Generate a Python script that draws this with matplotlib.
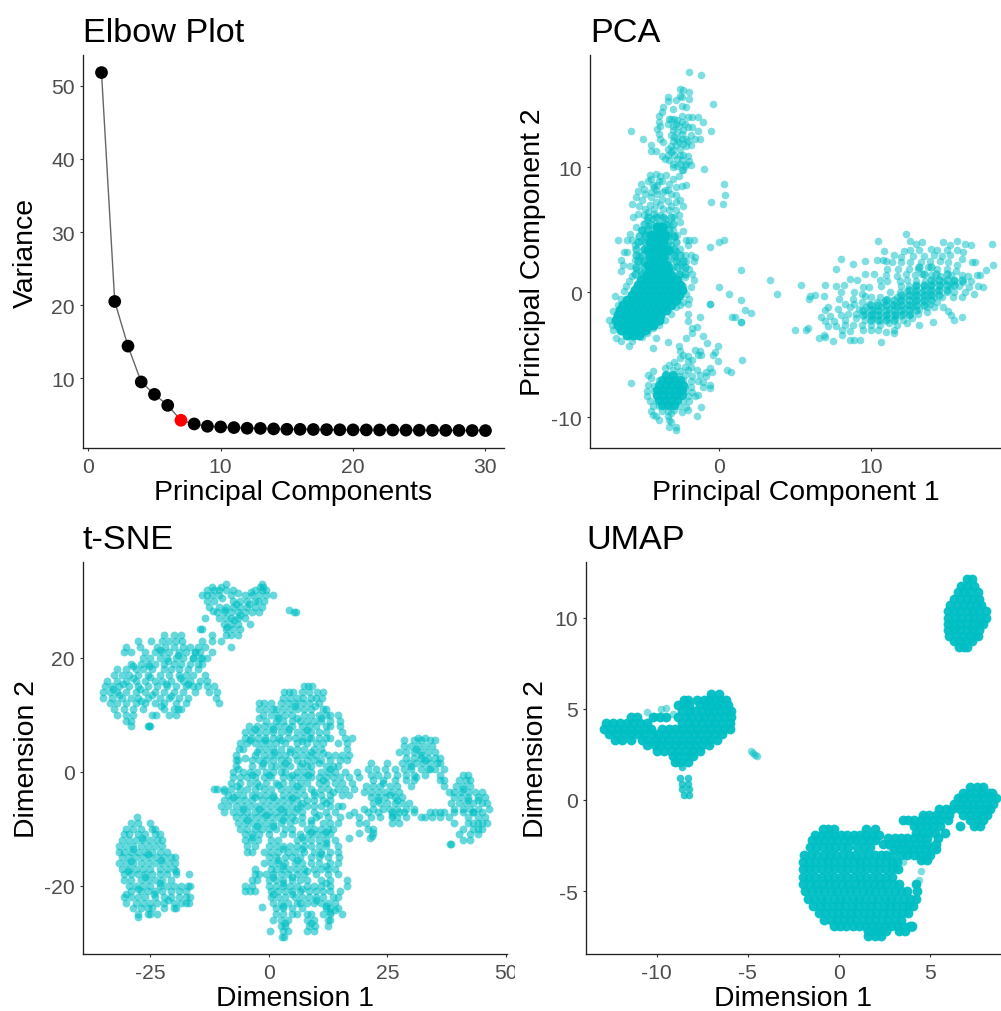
import matplotlib
matplotlib.use("Agg")
import matplotlib.pyplot as plt
from matplotlib.transforms import Bbox

plt.rcParams['font.family'] = ['Liberation Sans', 'DejaVu Sans']
plt.rcParams['axes.unicode_minus'] = False

W, H = 1001, 1012
TEAL = '#00BFC4'

# ---------- Elbow ----------
elbow_pc = list(range(1, 31))
elbow_var = [51.8, 20.5, 14.4, 9.5, 7.8, 6.3, 4.26, 3.76, 3.44, 3.35, 3.26, 3.17, 3.15, 3.08, 3.03,
             3.02, 3.0, 2.98, 2.96, 2.95, 2.94, 2.93, 2.92, 2.91, 2.9, 2.89, 2.88, 2.87, 2.86, 2.85]
elbow_highlight = 7

# ---------- PCA ----------
pca_core_rows = [
 (-3.4,[-6.1,-5.7,-5.3]),(-3.0,[-6.5,-6.1,-5.7,-5.3,-4.9]),
 (-2.6,[-6.7,-6.3,-5.9,-5.5,-5.1,-4.7,-4.4]),(-2.2,[-6.8,-6.4,-6.0,-5.6,-5.2,-4.8,-4.4,-4.0]),
 (-1.8,[-6.7,-6.3,-5.9,-5.5,-5.1,-4.7,-4.3,-3.9]),(-1.4,[-6.6,-6.2,-5.8,-5.4,-5.0,-4.6,-4.2,-3.8,-3.5]),
 (-1.0,[-6.4,-6.0,-5.6,-5.2,-4.8,-4.4,-4.0,-3.6,-3.2]),(-0.6,[-6.1,-5.7,-5.3,-4.9,-4.5,-4.1,-3.7,-3.3,-2.9]),
 (-0.2,[-5.8,-5.4,-5.0,-4.6,-4.2,-3.8,-3.4,-3.0,-2.7]),(0.2,[-5.6,-5.2,-4.8,-4.4,-4.0,-3.6,-3.2,-2.8,-2.5]),
 (0.6,[-5.4,-5.0,-4.6,-4.2,-3.8,-3.4,-3.0,-2.6]),(1.0,[-5.2,-4.8,-4.4,-4.0,-3.6,-3.2,-2.8]),
 (1.4,[-4.8,-4.4,-4.0,-3.6,-3.2]),(1.8,[-4.6,-4.2,-3.8,-3.4]),(2.2,[-4.7,-4.3,-3.9,-3.5]),
 (2.8,[-4.6,-4.2,-3.7]),(3.4,[-4.7,-4.3,-3.8,-3.4]),(4.0,[-4.6,-4.1,-3.7]),(4.6,[-4.5,-4.0,-3.6]),
 (5.2,[-4.1,-3.8]),
]
pca_bottom_core_rows = [
 (-6.6,[-3.5,-3.1]),(-7.0,[-3.8,-3.4,-3.0,-2.6]),(-7.4,[-4.0,-3.6,-3.2,-2.8,-2.4]),(-7.8,[-4.1,-3.7,-3.3,-2.9,-2.5]),
 (-8.2,[-4.1,-3.7,-3.3,-2.9,-2.5]),(-8.6,[-4.0,-3.6,-3.2,-2.8]),(-9.0,[-3.8,-3.4,-3.0]),
]
pca_mid_rows = [
 (6,[-4.7,-4.2,-3.7,-3.2]),(5.5,[-5.0,-4.5,-4.0,-3.5,-3.1]),(5,[-5.1,-4.7,-4.2,-3.7,-3.3]),
 (4.5,[-5.3,-4.9,-4.4,-3.9,-3.4,-3.0]),(4,[-5.4,-4.9,-4.4,-3.9,-3.4,-2.9]),(3.5,[-5.5,-5,-4.5,-4,-3.5,-3]),
 (3,[-5.5,-5.1,-4.5,-4,-3.5,-3,-2.6]),(2.5,[-5.4,-5,-4.4,-3.9,-3.4,-2.9,-2.4]),(2,[-5.5,-5,-4.4,-3.8,-3.3,-2.8,-2.3]),
 (1.5,[-5.6,-5.1,-4.6,-2.7,-2.3]),
]
pca_band_rows = [
 (2,[13.2,14.0]),(1.5,[13.5,14.3,15.0]),(1.0,[14.0,14.5,15,15.5,16]),(.6,[13,13.5,14,14.5,15,15.5]),
 (.2,[12.5,13,13.5,14,14.5,15]),(-.2,[12,12.5,13,13.5,14,14.5]),(-.6,[11,11.5,12,12.5,13,13.5,14]),
 (-1,[10,10.5,11,11.5,12,12.5,13,13.5]),(-1.4,[9.5,10,10.5,11,11.5,12,12.5,13]),(-1.8,[9.5,10,10.5,11,11.5,12,12.5]),
 (-2.2,[10,10.5,11,11.5]),
]
pca_main_edge = [
 (-7.3,-2.2),(-7.1,-2.6),(-7,-3),(-6.8,-3.7),(-6.5,-3.9),(-6,-4.3),(-5.8,-3.9),(-7,-1.5),(-6.9,-0.3),(-6.7,-1),
 (-6.5,-0.5),(-6.3,0.1),(-6.2,0.5),(-6,0.9),(-5.8,1.3),(-6.5,1.7),(-6.4,2.2),(-6.5,2.6),(-6.3,3.2),(-6.1,3.2),
 (-6.7,4.2),(-6.1,4.2),(-5.8,4.2),(-5.6,3.8),(-5.6,2.6),(-5.3,2.9),(-5.9,4.7),(-5.5,5.2),(-5.2,5),(-5.7,6),
 (-5.4,6.3),(-5,6.2),(-4.8,5.8),(-5.9,2.1),(-5.5,1.9),(-5.2,1.6),(-5.1,2.4),(-5.0,3.5),(-5.2,4.1),(-4.9,4.7),
 (-4.7,5.3),(-4.4,5.9),(-4.3,6.3),(-3.9,6.2),(-3.6,5.9),(-3.3,5.5),(-3.1,5),(-3,4.4),(-3.2,3.8),(-2.9,3.3),
 (-3,2.8),(-2.7,2.4),(-3.1,2),(-2.6,1.5),(-2.3,1.2),(-2.4,0.5),(-2.2,4.2),(-2.1,3.8),(-2,4.2),(-1.7,4.2),
 (-2.3,3),(-1.9,3),(-1.6,2.8),(-1.7,2.5),(-2.2,2.5),(-2.5,2),(-2,1.9),(-1.8,1.5),(-1.7,1),(-1.9,0.4),
 (-2.2,-0.1),(-2,-0.5),(-2.4,-0.8),(-2.1,-0.9),(-2.6,-1),(-2.9,-1.2),(-3.2,-1.7),(-3.6,-2.2),(-4,-2.6),(-4.4,-2.9),
 (-4.8,-3.3),(-5.1,-3.6),(-5.3,-3.2),(-4.7,-3),(-2.6,3.5),(-2.4,4.9),(-2.8,4.6),(-2.6,5.6),(-3.0,6.0),(-3.3,6.6),
 (-2.4,6.9),(-2.7,6.2),(-5.8,7.1),(-5.1,7.4),(-4.6,7),(-4.2,7.2),(-3.8,7.5),(-3.4,7.3),(-2.9,7.2),(-2.6,7.4),
 (-5.4,8.1),(-5.0,8.3),(-5.5,7.6),(-4.5,8.0),(-4.3,8.4),(-4.1,7.9),(-3.7,8.0),(-3.2,7.9),(-5.2,8.7),(-4.7,8.9),
 (-4.4,8.6),(-4.1,8.6),(-3.8,8.9),(-3.3,8.7),(-2.9,8.4),(-2.5,8.5),(-2.2,8.6),(-4.6,9.4),(-4.2,9.5),(-3.9,9.3),
 (-3.5,9.4),(-3.1,9.1),(-2.7,9.3),(-2.4,9.8),(-4.5,9.1),(-3.6,8.2),(-4.2,8.2),(-3.9,7.0),(-2.9,7.8),(-4.9,6.7),
 (-4.7,6.4),(-4.9,7.9),(-3.2,6.9),(-3.7,6.7),(-4.3,6.7),(-5.3,6.9),(-2.9,6.6),(-3.4,8.2),(-4.0,8.9),(-4.5,7.6),
]
pca_top = [
 (-2.6,16.3),(-2.4,16.2),(-2.0,16.0),(-2.6,15.7),(-2.0,15.5),(-2.5,15.6),(-3.4,15.6),(-3.4,15.3),(-2.5,14.9),(-2.2,14.8),
 (-3.7,14.8),(-3.8,14.4),(-4.0,14.1),(-2.5,14.1),(-3.2,13.9),(-3.0,13.9),(-2.8,13.8),(-2.5,13.6),(-2.1,14.0),(-1.4,14.0),
 (-1.8,14.0),(-4.0,13.6),(-3.4,13.5),(-3.1,13.3),(-2.7,13.3),(-2.3,13.5),(-1.1,13.6),(-4.1,13.1),(-3.9,13.3),(-3.1,13.0),
 (-2.4,13.0),(-2.1,13.2),(-1.4,12.9),(-4.0,12.7),(-3.2,12.6),(-2.8,12.8),(-2.5,12.7),(-1.9,12.6),(-3.9,12.3),(-3.1,12.1),
 (-2.8,12.3),(-2.5,12.3),(-2.2,12.3),(-1.6,12.3),(-1.3,12.3),(-3.2,11.7),(-2.9,11.8),(-2.4,11.9),(-1.9,11.8),(-4.5,11.8),
 (-3.4,11.5),(-3.1,11.4),(-2.6,11.5),(-2.2,11.7),(-4.5,11.3),(-4.2,11.3),(-3.4,11.0),(-3.0,11.0),(-2.4,11.0),(-2.1,10.9),
 (-3.8,10.9),(-3.3,10.6),(-2.8,10.7),(-2.5,10.6),(-2.0,10.5),(-3.1,10.3),(-2.6,10.3),(-2.2,10.3),(-1.9,10.2),(-3.1,10.0),
 (-2.8,10.1),(-2.3,10.1),(-2.5,9.8),(-3.7,12.0),(-1.8,13.2),(-2.1,12.1),(-3.6,10.7),(-3.0,12.4),(-2.7,12.0),(-3.3,13.9),
 (-2.9,13.5),(-2.6,11.0),(-3.2,11.2),(-2.9,15.4),(-3.1,14.7),
]
pca_bottom = [
 (-2.6,-4.7),(-2.4,-5.0),(-2.1,-5.1),(-1.6,-4.6),(-1.3,-4.7),(-1.4,-5.0),(-1.2,-5.0),(-2.6,-5.3),(-2.1,-5.5),(-1.8,-5.4),
 (-3.0,-5.6),(-3.3,-5.8),(-2.8,-5.9),(-2.3,-6.0),(-1.9,-6.0),(-3.6,-6.1),(-3.1,-6.2),(-2.6,-6.3),(-2.1,-6.2),(-1.5,-6.2),
 (-0.6,-6.1),(-0.5,-6.4),(-0.9,-6.4),(-4.4,-6.3),(-4.7,-6.6),(-4.5,-6.9),(-3.6,-6.6),(-3.1,-6.7),(-2.7,-6.7),(-2.3,-6.6),
 (-1.8,-6.7),(-1.3,-6.6),(-0.9,-6.7),(-4.0,-7.0),(-3.6,-7.1),(-3.2,-7.1),(-2.8,-7.2),(-2.4,-7.0),(-1.9,-7.1),(-1.4,-7.1),
 (-1.1,-7.2),(-0.6,-7.4),(-4.7,-7.4),(-4.3,-7.5),(-3.9,-7.5),(-3.5,-7.5),(-3.1,-7.5),(-2.7,-7.6),(-2.3,-7.5),(-1.9,-7.6),
 (-1.1,-7.6),(-4.8,-7.9),(-4.3,-7.9),(-3.9,-7.9),(-3.5,-7.9),(-3.1,-7.9),(-2.7,-8.0),(-2.3,-7.9),(-1.8,-8.0),(-0.6,-7.7),
 (-4.8,-8.3),(-4.2,-8.3),(-3.8,-8.3),(-3.4,-8.3),(-3.0,-8.3),(-2.6,-8.3),(-2.1,-8.3),(-1.6,-8.3),(-1.4,-8.2),(-4.6,-8.7),
 (-4.1,-8.7),(-3.7,-8.7),(-3.3,-8.7),(-2.9,-8.8),(-2.4,-8.7),(-2.0,-8.7),(-4.4,-9.1),(-4.0,-9.1),(-3.6,-9.1),(-3.2,-9.1),
 (-2.7,-9.1),(-2.2,-9.2),(-1.2,-9.2),(-4.5,-9.5),(-3.8,-9.5),(-3.4,-9.5),(-3.0,-9.4),(-2.5,-9.6),(-2.1,-9.4),(-4.4,-9.8),
 (-4.2,-9.9),(-3.4,-9.9),(-3.2,-9.7),(-1.5,-9.9),(-4.0,-10.2),(-3.3,-10.2),(-3.2,-10.4),(-3.3,-10.8),(-2.9,-10.8),(-2.9,-11.0),
]
pca_right = [
 (12.3,4.7),(10.5,4.1),(12.6,4.1),(13.0,3.9),(13.4,4.0),(14.8,4.0),(15.2,3.8),(15.7,4.1),(16.2,3.9),(16.6,3.8),(18.0,3.9),
 (10.9,3.3),(12.2,3.3),(12.6,3.4),(13.2,3.4),(14.0,3.5),(14.4,3.4),(15.0,3.4),(15.7,3.4),(16.1,3.2),(11.5,3.0),(12.0,2.8),
 (12.8,2.9),(13.5,2.9),(14.2,3.0),(14.7,2.9),(15.2,3.0),(16.0,2.7),(8.0,2.7),(9.6,2.5),(10.4,2.6),(10.8,2.6),(11.0,2.5),
 (11.4,2.4),(12.0,2.4),(12.6,2.4),(13.3,2.4),(13.9,2.5),(14.6,2.5),(15.1,2.4),(15.7,2.2),(16.7,2.4),(16.9,2.4),(18.1,2.2),
 (7.7,1.9),(8.8,2.3),(11.1,1.9),(11.8,1.9),(12.5,1.9),(13.1,1.9),(13.8,2.0),(14.4,1.9),(15.0,1.9),(15.6,1.7),(17.6,1.8),
 (9.6,1.5),(10.2,1.5),(11.0,1.4),(11.7,1.3),(12.3,1.5),(12.9,1.4),(13.4,1.5),(14.0,1.4),(14.6,1.3),(15.3,1.4),(16.0,1.4),
 (16.4,1.3),(17.0,1.4),(17.2,1.4),(8.6,1.1),(9.1,1.0),(10.6,1.0),(11.1,0.9),(11.9,0.9),(12.4,1.0),(13.0,0.9),(13.6,0.9),
 (14.2,0.9),(14.8,0.9),(15.5,0.9),(16.1,0.8),(16.6,0.9),(7.0,0.6),(7.7,0.5),(8.2,0.6),(9.5,0.4),(9.9,0.4),(10.7,0.5),
 (12.0,0.5),(12.5,0.5),(13.0,0.5),(13.5,0.5),(14.0,0.5),(14.6,0.5),(15.2,0.5),(15.8,0.5),(16.5,0.4),(17.1,0.5),(17.4,0.4),
 (8.0,0.0),(8.9,0.0),(9.4,-0.1),(11.3,0.0),(11.9,0.0),(12.4,0.1),(12.9,0.0),(13.4,0.0),(13.9,0.0),(14.4,0.1),(15.0,0.0),
 (15.5,0.0),(16.2,0.0),(16.8,-0.1),(6.0,-0.3),(6.3,-0.2),(6.9,-0.3),(7.9,-0.5),(8.8,-0.5),(9.6,-0.3),(10.0,-0.4),(10.6,-0.4),
 (11.1,-0.5),(11.7,-0.4),(12.2,-0.4),(12.7,-0.4),(13.2,-0.4),(13.7,-0.4),(14.2,-0.4),(14.7,-0.4),(15.4,-0.4),(16.0,-0.4),
 (5.9,-0.5),(7.2,-1.2),(7.0,-1.4),(8.3,-0.9),(8.9,-0.9),(9.4,-0.8),(9.9,-0.9),(10.4,-0.8),(10.9,-0.8),(11.4,-0.9),(11.9,-0.8),
 (12.4,-0.9),(12.9,-0.8),(13.4,-0.8),(13.9,-0.9),(14.4,-0.8),(7.8,-1.3),(8.6,-1.2),(9.2,-1.3),(9.7,-1.2),(10.2,-1.3),(10.7,-1.2),
 (11.2,-1.3),(11.7,-1.2),(12.2,-1.3),(12.7,-1.2),(13.2,-1.3),(13.7,-1.2),(14.2,-1.2),(14.8,-1.2),(15.1,-1.5),(6.7,-2.0),(7.3,-1.9),
 (8.0,-1.8),(8.5,-1.7),(9.0,-1.7),(9.6,-1.7),(10.1,-1.7),(10.6,-1.7),(11.1,-1.7),(11.6,-1.7),(12.1,-1.7),(12.6,-1.7),(13.1,-1.7),
 (13.7,-1.6),(15.3,-1.8),(7.0,-2.3),(7.6,-2.3),(8.3,-2.2),(9.0,-2.1),(9.6,-2.2),(10.1,-2.1),(10.6,-2.2),(11.1,-2.1),(11.6,-2.1),
 (12.1,-2.2),(12.7,-2.1),(15.5,-2.2),(16.0,-2.0),(7.2,-2.7),(7.7,-2.7),(8.3,-2.6),(8.8,-2.6),(9.4,-2.6),(10.0,-2.6),(10.6,-2.6),
 (11.2,-2.5),(11.7,-2.6),(12.4,-2.5),(13.2,-2.6),(14.1,-2.4),(8.1,-3.0),(8.6,-3.1),(9.5,-3.0),(10.0,-3.0),(10.5,-3.0),(11.0,-3.2),
 (11.5,-3.0),(7.0,-3.6),(6.6,-3.7),(7.5,-3.9),(8.1,-3.4),(8.6,-3.8),(8.9,-3.8),(9.3,-3.8),(10.7,-4.0),(11.5,-3.3),(6.9,-3.4),
]
pca_isolated = [
 (-2.0,17.6),(-1.2,17.4),(-0.4,15.1),(-0.55,12.9),(-1.05,9.9),(0.33,8.7),(0.37,7.8),(-0.55,7.2),(0.26,7.1),(0.3,4.2),
 (0,4.0),(-0.65,3.6),(1.45,1.8),(3.37,1.0),(3.8,-0.15),(5.4,0.6),(0,0.4),(0.66,-0.15),(1.45,-0.65),(-0.65,-0.9),
 (1.67,-1.4),(2.1,-1.65),(0.8,-1.95),(1.03,-2),(1.45,-2.4),(-1.3,-2),(-2.1,-1.7),(-2.1,-2.3),(-1.8,-2.9),(-1.45,-2.8),
 (-1.8,-3.3),(-2.2,-3.7),(-2.7,-4.3),(-3.4,-4),(-4.4,-4.5),(-4.2,-3.7),(-0.85,-4.1),(-0.1,-4.3),(-0.3,-4.8),(-0.4,-5),
 (-0.1,-5.5),(1.47,-5.4),(0.5,-6.2),(0.77,-6.4),(-5.84,-7.25),(-5.84,12.9),(-5.07,12.3),(5,-3),(5.7,-3),(5.85,-2.9),
 (-0.6,-0.9),(1.4,-2.4),(-1.1,-3.5),
]

# ---------- t-SNE ----------
tsne_upper_left_rows = [
 (24,[-22,-20,-18.5]),(23,[-27.5,-24.8,-22.5,-21,-19.5,-18.2]),(22,[-30,-27.2,-23.5,-21.8,-20,-18,-16.5]),
 (21,[-30.5,-29,-26,-24,-22.5,-21,-19,-17.5,-15.5]),(20,[-26.5,-25,-23,-21.5,-19.5,-18,-16,-14.5]),
 (19,[-29,-27,-25.5,-24,-22,-20,-18.5,-16.5]),(18,[-32,-30,-28,-26.5,-24.5,-22,-20.5,-19,-17,-15]),
 (17,[-32.5,-31,-29.5,-27.5,-25.5,-23,-21,-19,-17.5,-16,-13.5]),(16,[-34,-32,-30,-28,-26,-24,-22.5,-20.5,-18,-16.5,-14.5,-13]),
 (15,[-34.5,-33,-31.5,-29.5,-27.5,-25.5,-23.5,-21.5,-19.5,-17.5,-16,-13,-11.5]),(14,[-35,-33.5,-32,-30,-28,-26,-24,-22,-20,-18,-15.5,-12.5,-11]),
 (13,[-35,-33,-31,-29,-27.5,-25.5,-23,-21,-19,-17,-11.2]),(12,[-33.5,-32,-30,-28,-26,-24,-22,-19.5,-17.5,-10.5]),
 (11,[-32.5,-30.5,-28.5,-26.5,-22,-20,-18.5]),(10,[-32,-30,-28.5,-24.5,-23.8,-21,-19.5]),(9,[-30,-29]),(8,[-29,-25.5,-25,-25.2]),
]
tsne_neck_rows = [
 (33,[-9,-1.5]),(32.5,[-12,-10,-1.8,-1.2]),(32,[-13,-11.5,-10.5,-9,-7.5,-3,-1.5,-0.5]),
 (31,[-14,-13,-12,-10.5,-8,-5,-3.5,-2,-0.5,0.8]),(30,[-13,-11.5,-7.5,-6,-4.5,-3,-1,-2.2]),
 (29,[-12.5,-10.5,-9,-7.5,-6,-4.5,-3,-1.5]),(28,[-11,-9.5,-8,-6.5,-5,-3.5,-2]),
 (27,[-13.5,-10.5,-9,-8,-6.5,-5]),(26,[-9.5,-8,-6.5,-4]),(25,[-14.5,-14,-9,-7.5,-6]),
 (24,[-12,-9,-8,-6.5]),(23,[-14,-12,-10]),(22,[-15,-13.5,-8]),(21,[-15.5,-14.5,-12]),
 (20,[-16,-14,-13]),(19,[-15,-14]),
]
tsne_extra = [(4.2,28.5),(5.3,28.1),(5.7,28.0),(-11.5,-3),(-11,-3),(-9.5,-3.4),(38.5,-12.7),(38.2,-12.7),
 (22,-10.8),(21.8,-11.3),(21.4,-11.6),(19,-9),(19.1,-10.8),(17,-11.6),(17,-7.5),(16.5,-19),(14,-24.2),(-1.5,-23.8)]
tsne_fill = [
 (-9.8,30.5),(-6.4,31.4),(-3.8,31.6),(-7,29.5),(-4.2,29.4),(-9.3,28.5),(-6,27.6),(-11.8,28.3),(-7.3,26.6),(-8.7,25.4),
 (-30.7,15.5),(-28.7,16.5),(-25,16.6),(-21.7,15.5),(-18.7,16.5),(-31.6,13.5),(-27.2,14.5),(-24.7,13.5),(-20.5,13.4),(-28.5,18.6),
 (-25.2,18.5),(-21.2,19.5),(-19.2,20.5),(-23,21.4),(-27,12.5),(-22.7,11.5),(-19.2,11),(-32.8,14.5),(-17,15.5),(-15,15),
 (-28.5,-13.5),(-25.5,-14.5),(-22.7,-15.5),(-29.6,-17.5),(-26,-18.5),(-23,-19.6),(-27.5,-20.5),(-24.2,-21.5),(-21.2,-22.5),(-29,-15.6),
 (-26.8,-11.6),(-30,-21.5),(-19.5,-17.5),
 (1.5,11),(5.5,11.5),(9.7,11.5),(-2,9.5),(2,9.5),(6,9.5),(11,9.5),(-3,7.5),(1,7.5),(4.3,7.5),(8,7.4),(13,8),
 (-4,5.5),(-0.7,5.5),(2.5,5.5),(7,5.4),(9,6),(13,6),(-2.5,3.5),(1.2,3.5),(4.5,3.5),(9,3.5),(11.5,3.3),(-5,2.4),(-1.2,1.6),(3.5,1.5),
 (7,1.5),(10.5,1.6),(13,0.5),(-6.5,0.5),(-3.5,-0.5),(0,-0.5),(5,-0.5),(8.3,-0.5),(11.5,-1.5),(-6.7,-2.5),(-2,-2.5),(2,-2.4),(6,-2.5),
 (9.5,-3.5),(13.5,-3.5),(-7.5,-4.5),(-3,-4.5),(1,-4.4),(5,-4.6),(7,-5.5),(12,-5.5),(-5.5,-6.5),(-2,-6.5),(2.5,-6.5),(6,-6.4),(10.5,-7.5),
 (-4.5,-8.5),(-0.5,-7.5),(3,-8.5),(5.5,-8.5),(9,-8.5),(-2.5,-9.6),(1,-9.5),(9,-10.5),(12,-10.5),(-3.5,-11.5),(7,-11.5),(12,-12.5),
 (3,-13.5),(7,-13.5),(11,-14.5),(2,-15.5),(6,-15.5),(12,-16.5),(3,-16.5),(8,-17.5),(1,-18.5),(5,-18.5),(12,-19.5),(3,-19.6),(7,-20.5),
 (1,-21.5),(5,-21.5),(10,-22.5),(3,-23.5),(6.5,-23),(12,-23.5),(3.5,-26.5),(9,-26.5),(13,-24.6),
 (30,1),(32,3),(31,4),(33,2),(34,0.5),(31,-1),(25.5,-4),(24,-2),(27,-5),(23,-5),(26,-7.5),(42,-5),(43,-7),(44,-5),(41,-3),(42,-9),(44,-9),
]
tsne_lower_left_rows = [
 (-8,[-27.8]),(-9,[-29,-27.5,-25]),(-10,[-30,-28.5,-27,-24.5,-24]),(-11,[-30.5,-29.5,-27.5,-26,-24,-23]),
 (-12,[-31,-29.5,-28,-26.5,-25,-23.5,-22.5]),(-13,[-31.5,-30,-28.5,-27,-25.5,-24,-22.5]),
 (-14,[-31.5,-30.5,-29,-27.5,-26,-24.5,-23,-21.5]),(-15,[-31,-29.5,-28,-26.5,-25,-23.5,-22,-20.5,-19.8]),
 (-16,[-31.5,-30,-28.5,-27,-25.5,-24,-22.5,-21,-19.8]),(-17,[-31,-29.5,-28,-26.5,-25,-23,-21.5,-20]),
 (-18,[-30.5,-29,-27.5,-26,-24.5,-23,-21.5,-19.5,-16.8]),(-19,[-30.5,-29,-27,-25.5,-24,-22.5,-20.5]),
 (-20,[-29.5,-28,-26.5,-25,-23,-21.5,-20,-18.5,-17,-16.5]),(-21,[-29,-27,-25.5,-24,-22.5,-20.5,-19,-17.5]),
 (-22,[-30.5,-29,-27.5,-26,-24,-22,-20.5,-19,-17.5,-16.5]),(-23,[-30,-28,-26.5,-25,-23.5,-22,-20,-18.5,-17.5,-16.8]),
 (-24,[-28.5,-27,-25.5,-24.5,-22,-20,-19.5]),(-25,[-27.5,-25.5,-25,-23.5]),(-25.5,[-27.5]),
]
tsne_center_rows = [
 (15,[7.5,8.2,9.2]),(14,[3.2,4.2,5.2,7,8.5,10.2,11.5]),(13,[3,4.5,6,7.2,8.8,10,11.3]),
 (12,[-2,-1,0.5,2.5,4,5.5,7,8.5,10.5]),(11,[-2,-0.5,1,3,4.5,6,7.5,9,11.5,12]),
 (10,[-1.2,0.5,2,3.5,5,7.5,9,10.5,12,13,14.5]),(9,[-0.5,1.5,3,5,6.5,8,9.5,11,13,15]),
 (8,[-4.2,-2.5,-1,0.5,2,3.5,5,7,8.5,10,12,15]),(7,[-5,-3.5,-2,-0.5,1,2.5,4,6,7.5,9,10.5,12,15.5]),
 (6,[-5,-3.8,-2.2,-0.8,0.8,2.2,4,5.5,7,8.5,10.5,12,16,17.5]),(5,[-6,-4.5,-3,-1.5,0,1.5,3.5,6,8,10,11.5,14.5,16.5]),
 (4,[-6.2,-5.5,-2,-0.5,1,2.5,4.5,6,7.5,9.5,11,16.5]),(3,[-7,-3,-1,0.5,2,3.5,5.5,7,8.5,10,12.5,14,15.5,17]),
 (2,[-7,-6.5,-3.5,-2,-0.5,1,2.5,4,6,8,9.5,11,13,15,16.5]),(1,[-7,-3.5,-1.5,0.5,1.5,3,4.5,6.5,8,9,12,13.5,14.5]),
 (0,[-7.5,-5.5,-4,-2.5,-0.5,1,2.5,3.5,6,7.5,9,11,12.5,14,16,18.5]),(-1,[-7.5,-6,-4.5,-3,-1,0.5,3,4.5,6,7.5,9,10.5,12,13.5,15,17,19]),
 (-2,[-8,-6,-4,-2.5,-0.5,1.5,3,5,6.5,8,10.5,12,14,15.5,17.5]),(-3,[-9.5,-8,-6,-4.5,-3,-1,0.5,2.5,4,5.5,7,9,11,12.5,14.5,16,18]),
 (-4,[-8.5,-7,-5.5,-3.5,-2,-0.5,1,3,4.5,6,7.5,9.5,11,13,15.5,17]),(-5,[-9.5,-8,-6.5,-5,-3.5,-1.5,0,1.5,3,4.5,6,8,9.5,11.5,13]),
 (-6,[-10,-8.5,-7,-5.5,-4,-2.5,-1,0.5,2,3.5,4.8,6.5,8,9.5,11,13,14.5,15.5]),(-7,[-9.5,-7.5,-6,-4.5,-3,-1.5,0,1.5,3,4,5.5,7,9.5,12,14]),
 (-8,[-7,-5.5,-4,-2.5,-1,0.5,2,3.5,5,7,10,12.5,15]),(-9,[-6.5,-5,-3.5,-2,-0.5,1,2.5,4.5,7,9,11.5,13,14.5]),
 (-10,[-6,-4.5,-3,-1.5,0,1.5,3.5,5,8,9.5,11,12.5,13.5]),(-11,[-5,-3.5,-2,0,3,5,6.5,8.5,10,11.5,13]),
 (-12,[-5,-3.8,-2.2,0.5,2,6,7.5,9,10.5,12,14]),(-13,[-4.5,-3,0,1.5,3,4.5,6,7.5,9,10.5,12,14.5]),
 (-14,[-4.5,-3.5,-1,0.5,2,4,5.5,7.5,9.5,11,13,14.5]),(-15,[0,1.5,3.5,5,6.5,9,10.5,12.5,14.8]),
 (-16,[-1,0.5,2,3.5,5.5,7,9,10.5,13,14.5]),(-17,[-3,0.5,1.5,3,4.5,6,7.5,9.5,11,12.5,14]),
 (-18,[-3,-2,-0.5,1,2.5,4,6,7.5,10,12.5,14.5]),(-19,[-3.5,-2.5,0,1.5,3,5,6.5,8,11,13]),
 (-20,[-5,-3.5,0,1.5,3,4.5,6,8,9.5,11,13,16.5]),(-21,[-5,-4,-3,0.5,2,3.5,5,6.5,8.5,10,11.5,13,15]),
 (-22,[0.5,2,3.5,5.5,7,8.5,10,11.5,13.5,14.5]),(-23,[1,2.5,4,6,8,9.5,11,12.5,14]),
 (-24,[1.5,3,5,7,12,13,14.5]),(-25,[1.5,3,5,6,8,9,11.5,13,15.5]),(-26,[1,2.5,4,8,9.5,12.5,13]),
 (-27,[2.5,3.5,8.5,9.8,12.5]),(-28,[0.3,3,4,8,9.5]),(-29,[2.8,3.2]),
]
tsne_right_rows = [
 (6,[31.5,33]),(5.5,[28.5,30.5,32,34,35]),(4.5,[28.5,30,31.5,33,34.5]),(3.5,[27.5,29,30.5,32,33.5,35]),
 (2.5,[29,30.5,32,33.5,35,36]),(1.5,[21.5,25,28,29.5,31,32.5,34,35.5,36]),(0.5,[21,22.5,24.5,26.5,28.5,30,32,33.5,35,37]),
 (-0.5,[21.5,23,25,27,29,30.5,33,36,41,42]),(-1.5,[22,24,26.5,29,30.5,36,37,40,41.5,42.5]),
 (-2.5,[20.5,22,23.5,25.5,27,30,37,39.5,41,42.5]),(-3.5,[20,21.5,23,24.5,26,27.5,38,39,40.5,42,43.5,45]),
 (-4.5,[21.5,23,24.5,26.5,28,39,40.5,42,44,45.5]),(-5.5,[22,23.5,25,26.5,28,29.5,38.5,40,41.5,43,45,46]),
 (-6.5,[20,22,24,25.5,27,29,30.5,39,41,42.5,44,46.5]),(-7,[18,21,23,26,27.5,28.5,30.5,34,35,36,37,39,41,43,45]),
 (-8,[19,21.5,23.5,26,27,29,32,33,34.5,36,38,42,44,45.5]),(-9,[20.5,26,27.5,39,43,45,46]),
 (-10,[21,22,41,43,44,45]),(-11,[40,42.5,44]),(-12,[42.5,41]),
]

# ---------- UMAP ----------
umap_oval_rows = [
 (12.1,[7.0,7.3]),(11.75,[6.7,7.0,7.4]),(11.4,[6.5,6.85,7.2,7.6]),(11.0,[6.3,6.65,7.0,7.35,7.7]),
 (10.7,[6.1,6.45,6.8,7.15,7.5,7.8]),(10.35,[5.95,6.3,6.65,7.0,7.35,7.7,8.05]),(10.0,[6.0,6.35,6.7,7.05,7.4,7.75,8.05]),
 (9.65,[6.0,6.3,6.65,7.0,7.35,7.7,7.9]),(9.3,[5.95,6.3,6.65,7.0,7.35,7.7]),(9.0,[6.05,6.4,6.75,7.1,7.45,7.6]),
 (8.7,[6.3,6.65,7.0,7.3]),(8.4,[6.6,6.85,7.0]),
]
umap_upper_rows = [
 (5.8,[-7.0,-6.6]),(5.5,[-8.5,-8.3,-7.8,-7.4,-7.1,-6.8,-6.5,-6.2]),(5.2,[-8.8,-8.5,-8.2,-7.6,-7.3,-7.0,-6.7,-6.4,-6.1]),
 (4.9,[-8.6,-8.2,-7.9,-7.5,-7.2,-6.9,-6.5,-6.2,-5.9]),(4.55,[-11.4,-11.1,-10.2,-9.8,-9.5,-8.8,-8.4,-8.1,-7.7,-7.4,-7.0,-6.7,-6.3,-5.9]),
 (4.2,[-12.8,-12.4,-12.0,-11.6,-11.3,-10.9,-10.5,-8.6,-8.2,-7.9,-7.5,-7.1,-6.8,-6.4,-6.0]),
 (3.9,[-12.9,-12.5,-12.1,-11.8,-11.4,-11.0,-10.6,-10.3,-9.7,-9.3,-9.0,-8.6,-8.2,-7.8,-7.4,-7.1,-6.7,-6.3,-6.0]),
 (3.6,[-12.6,-12.2,-11.8,-11.4,-11.0,-10.7,-10.2,-9.9,-9.5,-9.1,-8.7,-8.3,-7.9,-7.6,-7.2,-6.8,-6.4]),
 (3.3,[-12.3,-11.9,-11.4,-10.8,-10.5,-10.1,-9.7,-9.4,-9.0,-8.6,-8.2,-7.8,-7.4,-7.1,-6.7]),
 (3.0,[-10.5,-10.1,-9.8,-9.4,-9.0,-8.6,-8.2,-7.9,-7.5,-7.1]),(2.7,[-10.0,-9.6,-9.2,-8.8,-8.4,-8.0,-7.6]),
 (2.4,[-9.1,-8.8,-8.4,-8.0]),(2.1,[-9.0,-8.7,-8.3]),
]
umap_small_rows = [(1.8,[-8.6]),(1.2,[-8.7,-8.3]),(0.9,[-8.6,-8.3]),(0.6,[-8.6,-8.25]),(0.3,[-8.5,-8.2])]
umap_small = [(-9.75,5.0),(-9.5,5.05),(-4.85,2.7),(-4.7,2.55),(-4.6,2.45),(-4.5,2.4),(-9.1,4.7),(-10.5,4.85),(-10.1,4.6)]
umap_blob_rows = [
 (-1.6,[-0.9,-0.6,-0.3,1.5,2.0]),
 (-1.9,[-1.3,-0.95,-0.6,-0.25,0.1,0.45,0.8,1.15,1.5,1.85,2.2]),
 (-2.2,[-1.5,-1.15,-0.8,-0.45,-0.1,0.25,0.6,0.95,1.3,1.65,2.0]),
 (-2.6,[-1.6,-1.25,-0.9,-0.55,-0.2,0.15,0.5,1.0,1.35,1.7]),
 (-3.0,[-1.9,-1.55,-1.2,-0.85,-0.5,-0.15,0.2,0.55,0.9,1.25,1.6,1.95,2.3,2.6,2.9]),
 (-3.4,[-2.0,-1.65,-1.3,-0.95,-0.6,-0.25,0.1,0.45,0.8,1.15,1.5,1.85,2.2,2.55,2.9,3.2]),
 (-3.8,[-2.0,-1.65,-1.3,-0.95,-0.6,-0.25,0.1,0.45,0.8,1.15,1.5,1.85,2.2,2.55,2.9,3.25]),
 (-4.2,[-2.0,-1.65,-1.3,-0.95,-0.6,-0.25,0.1,0.45,0.8,1.15,1.5,1.85,2.2,2.55,2.9]),
 (-4.6,[-1.95,-1.6,-1.25,-0.9,-0.55,-0.2,0.15,0.5,0.85,1.2,1.55,1.9,2.25,2.6,2.95,3.3,4.2]),
 (-5.0,[-1.85,-1.5,-1.15,-0.8,-0.45,-0.1,0.25,0.6,0.95,1.3,1.65,2.0,2.35,2.7,3.05,3.4,3.75,4.3]),
 (-5.4,[-1.7,-1.35,-1.0,-0.65,-0.3,0.05,0.4,0.75,1.1,1.45,1.8,2.15,2.5,2.85,3.2,3.55,3.9,4.2]),
 (-5.8,[-1.4,-1.05,-0.7,-0.35,0.0,0.35,0.7,1.05,1.4,1.75,2.1,2.45,2.8,3.15,3.5,3.85,4.05]),
 (-6.2,[-1.1,-0.75,-0.4,-0.05,0.3,0.65,1.0,1.35,1.7,2.05,2.4,2.75,3.1,3.45,3.8]),
 (-6.6,[-0.8,-0.45,-0.1,0.25,0.6,0.95,1.3,1.65,2.0,2.35,2.7,3.05,3.4]),
 (-6.9,[-0.3,0.05,0.4,0.75,1.1,1.45,1.8,2.15,2.5,2.85,3.2,3.5,3.9,4.0]),
 (-7.2,[1.6,1.95,2.3,2.6,3.3,3.6]),(-7.45,[1.6,1.95,2.3]),
]
umap_arm_rows = [
 (0.7,[7.2,7.55,7.9]),(0.4,[6.8,7.15,7.5,7.85,8.2,8.4]),(0.1,[6.5,6.85,7.2,7.55,7.9,8.25,8.6]),
 (-0.2,[6.3,6.65,7.0,7.35,7.7,8.05,8.45]),(-0.5,[5.5,5.85,6.2,6.65,7.0,7.35,7.7,8.05,8.3]),
 (-0.8,[4.6,4.95,5.3,5.65,6.05,6.8,7.2,7.55,7.9,8.1]),(-1.1,[3.5,3.8,4.1,4.5,4.85,5.2,5.55,5.95,7.2,7.55,7.9]),
 (-1.4,[4.1,4.45,4.8,5.15,5.55,6.65,7.4,7.75]),(-1.8,[4.2,4.55,4.9,5.25,5.8]),
 (-2.1,[2.7,3.05,3.4,3.75,4.1,4.45,4.85,5.4]),(-2.4,[2.4,2.75,3.1,3.45,3.8,4.15,4.5,4.85,5.3]),
 (-2.7,[3.0,3.35,3.7,4.05,4.4,4.75,5.1,5.3]),(-3.0,[3.4,3.75,4.1,4.45,4.85,5.0]),(-3.3,[4.5,4.85]),
]
umap_stray = [(4.5,-3.9),(4.4,-4.4),(4.2,-4.6),(3.5,-3.4),(3.1,-3.7),(2.8,-2.6),(4.0,-7.0)]


def expand(rows):
    xs, ys = [], []
    for y, row in rows:
        xs.extend(row)
        ys.extend([y] * len(row))
    return xs, ys


def unzip(pairs):
    return [p[0] for p in pairs], [p[1] for p in pairs]


def make_axes(left, right, top, bottom, xlim, ylim, xticks, yticks, title, xlabel, ylabel, xpad, ypad):
    ax = fig.add_axes([left / W, 1 - bottom / H, (right - left) / W, (bottom - top) / H])
    ax.set_xlim(*xlim)
    ax.set_ylim(*ylim)
    ax.set_xticks(xticks)
    ax.set_yticks(yticks)
    ax.tick_params(length=2.4, width=0.8, color='#333333', labelcolor='#4D4D4D', labelsize=15.2)
    ax.tick_params(axis='x', pad=4.3)
    ax.tick_params(axis='y', pad=3.3)
    for s in ('top', 'right'):
        ax.spines[s].set_visible(False)
    for s in ('left', 'bottom'):
        ax.spines[s].set_linewidth(0.95)
        ax.spines[s].set_color('#222222')
    ax.set_title(title, loc='left', fontsize=24.7, pad=10, color='black')
    ax.set_xlabel(xlabel, fontsize=20.4, labelpad=xpad, color='black')
    ax.set_ylabel(ylabel, fontsize=20.4, labelpad=ypad, color='black')
    return ax


def points(ax, xy, alpha=0.5, s=30):
    ax.scatter(xy[0], xy[1], s=s, c=TEAL, alpha=alpha, linewidths=0, clip_on=True)


fig = plt.figure(figsize=(W / 100, H / 100), dpi=100, facecolor='white')

# Elbow
ax1 = make_axes(82.7, 504, 56, 449, (-0.42, 31.4), (0.47, 54.2), [0, 10, 20, 30], [10, 20, 30, 40, 50],
                'Elbow Plot', 'Principal Components', 'Variance', 2.0, 8.6)
ax1.plot(elbow_pc, elbow_var, color='#666666', lw=1.0, zorder=1)
ax1.scatter(elbow_pc, elbow_var, s=84, c=['red' if p == elbow_highlight else 'black' for p in elbow_pc],
            linewidths=0, zorder=2)

# PCA
ax2 = make_axes(590, 1001, 56, 449, (-8.55, 18.6), (-12.47, 19.0), [0, 10], [-10, 0, 10],
                'PCA', 'Principal Component 1', 'Principal Component 2', 2.0, 3.8)
points(ax2, expand(pca_core_rows), 0.95, 52)
points(ax2, expand(pca_bottom_core_rows), 0.85, 44)
points(ax2, expand(pca_mid_rows), 0.7, 36)
points(ax2, expand(pca_band_rows), 0.65, 36)
for cluster in (pca_main_edge, pca_top, pca_bottom, pca_right, pca_isolated):
    points(ax2, unzip(cluster))

# t-SNE
ax3 = make_axes(82.7, 507.3, 562.7, 955, (-39.2, 50.26), (-32.0, 36.9), [-25, 0, 25, 50], [-20, 0, 20],
                't-SNE', 'Dimension 1', 'Dimension 2', 2.0, 3.0)
for rows in (tsne_upper_left_rows, tsne_neck_rows, tsne_lower_left_rows, tsne_center_rows, tsne_right_rows):
    points(ax3, expand(rows), 0.6, 32)
points(ax3, unzip(tsne_extra), 0.6, 32)
points(ax3, unzip(tsne_fill), 0.6, 32)
clip = Bbox.from_extents(0, 0, 515, H)
for lab in ax3.get_xticklabels():
    lab.set_clip_box(clip)
    lab.set_clip_on(True)

# UMAP
ax4 = make_axes(586, 1001, 562.7, 955, (-13.87, 8.88), (-8.44, 13.06), [-10, -5, 0, 5], [-5, 0, 5, 10],
                'UMAP', 'Dimension 1', 'Dimension 2', 2.0, 3.7)
for rows in (umap_oval_rows, umap_upper_rows, umap_blob_rows, umap_arm_rows):
    points(ax4, expand(rows), 0.95, 50)
points(ax4, expand(umap_small_rows), 0.8, 30)
points(ax4, unzip(umap_small))
points(ax4, unzip(umap_stray))

fig.savefig('out.png', dpi=100, facecolor='white')
